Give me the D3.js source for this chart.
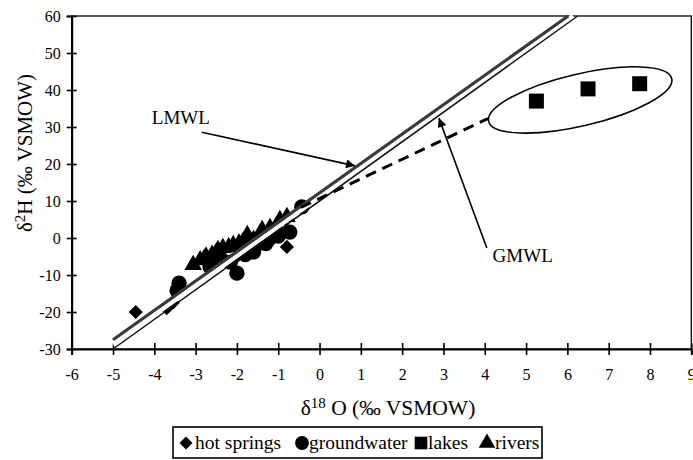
<!DOCTYPE html>
<html>
<head>
<meta charset="utf-8">
<script src="https://cdn.jsdelivr.net/npm/d3@7"></script>
<style>
  body { margin: 0; background: #fff; }
  text { font-family: "Liberation Serif", "DejaVu Serif", serif; fill: #000; }
</style>
</head>
<body>
<svg width="693" height="460"></svg>
<script>
var width = 693
var height = 460

// data (d18O, d2H)
var hotSprings = [[-4.45, -20], [-3.7, -19], [-3.55, -17.5], [-2.4, -6], [-2.0, -5], [-1.5, -2.5], [-1.2, -1], [-0.79, -2.4]]
var groundwater = [[-3.4, -12.2], [-3.45, -14.2], [-2.65, -7.8], [-2.4, -5.5], [-2.16, -6.5], [-2.0, -9.5], [-1.9, -3],
                   [-1.8, -4.5], [-1.6, -3.8], [-1.3, -1.5], [-1.0, 0.5], [-0.72, 1.6], [-0.43, 8.4]]
var lakes = [[5.25, 37], [6.5, 40.3], [7.75, 41.7]]
var rivers = [[-3.06, -7.3], [-2.89, -6], [-2.8, -5.8], [-2.75, -5], [-2.6, -4.5], [-2.5, -4], [-2.46, -3.2],
              [-2.34, -2.7], [-2.2, -2.5], [-2.09, -1.9], [-1.95, -1.5], [-1.85, -1], [-1.75, 0.8], [-1.6, -0.5],
              [-1.45, 0.5], [-1.39, 2.2], [-1.2, 2.7], [-1.05, 3], [-0.96, 4.9], [-0.79, 5.7]]

var seriesNames = ["hot springs", "groundwater", "lakes", "rivers"]
var xTicks = d3.range(-6, 10, 1)
var yTicks = d3.range(-30, 70, 10)

// meteoric water lines: LMWL, GMWL (d2H = a*d18O + b), drawn from -5 up to 60
var mwlNames = ["LMWL", "GMWL"]
var mwlSlopes = [7.94, 8]
var mwlIntercepts = [12.2, 10]
var mwlStart = -5

// evaporation line (dashed) and lake ellipse
var evapLine = [[-0.45, 8.3], [4.08, 32.3]]
var ellipseCenter = [6.31, 37.3]

// label positions and arrows in data units
var labelPos = [[-4.06, 30.8], [4.19, -6.5]]
var arrowFrom = [[-2.85, 28.6], [4.05, -2.7]]
var arrowTo = [[0.86, 19.5], [2.89, 32.4]]

var x = d3.scaleLinear().domain([-6, 9]).range([71.7, 691.3])
var y = d3.scaleLinear().domain([-30, 60]).range([349, 16])

var svg = d3.select("svg")

svg.append("defs").append("marker")
   .attr("id", "head")
   .attr("viewBox", "0 0 10 10")
   .attr("refX", 10).attr("refY", 5)
   .attr("markerWidth", 13).attr("markerHeight", 9)
   .attr("markerUnits", "userSpaceOnUse")
   .attr("orient", "auto")
   .append("path").attr("d", "M0,0L10,5L0,10Z").attr("fill", "#000")

// frame
svg.append("rect")
   .attr("x", x(-6)).attr("y", y(60))
   .attr("width", x(9) - x(-6)).attr("height", y(-30) - y(60))
   .attr("fill", "none").attr("stroke", "#000").attr("stroke-width", 1.3)

// axes
var xAxis = svg.append("g")
   .attr("transform", "translate(0," + y(-30) + ")")
   .call(d3.axisBottom(x).tickValues(xTicks).tickSize(6).tickPadding(14).tickFormat(d => String(d)))
xAxis.select(".domain").attr("stroke-width", 2)
xAxis.selectAll(".tick line").attr("y1", -6).attr("stroke-width", 1.6)
xAxis.selectAll("text").attr("font-size", 16).attr("font-family", "Liberation Serif")

var yAxis = svg.append("g")
   .attr("transform", "translate(" + x(-6) + ",0)")
   .call(d3.axisLeft(y).tickValues(yTicks).tickSize(5).tickPadding(6).tickFormat(d => String(d)))
yAxis.select(".domain").attr("stroke-width", 2)
yAxis.selectAll(".tick line").attr("x1", 5).attr("stroke-width", 1.6)
yAxis.selectAll("text").attr("font-size", 16).attr("font-family", "Liberation Serif")

// axis titles
var xt = svg.append("text")
   .attr("x", 388).attr("y", 415)
   .attr("text-anchor", "middle").attr("font-size", 21.5)
xt.append("tspan").text("δ")
xt.append("tspan").attr("font-size", 15).attr("dy", -7).text("18")
xt.append("tspan").attr("dy", 7).text(" O (‰ VSMOW)")

var yt = svg.append("text")
   .attr("transform", "translate(32,153) rotate(-90)")
   .attr("text-anchor", "middle").attr("font-size", 21)
yt.append("tspan").text("δ")
yt.append("tspan").attr("font-size", 15).attr("dy", -7).text("2")
yt.append("tspan").attr("dy", 7).text("H (‰ VSMOW)")

// markers
var shapes = [
  {data: hotSprings, sym: d3.symbolSquare, size: 100, rot: 45},
  {data: groundwater, sym: d3.symbolCircle, size: 185, rot: 0},
  {data: lakes, sym: d3.symbolSquare, size: 225, rot: 0},
  {data: rivers, sym: d3.symbolTriangle, size: 135, rot: 0}
]

shapes.forEach(function(s) {
  svg.append("g")
     .selectAll("path")
     .data(s.data)
     .enter()
       .append("path")
       .attr("d", d3.symbol().type(s.sym).size(s.size))
       .attr("transform", d => "translate(" + x(d[0]) + "," + y(d[1]) + ") rotate(" + s.rot + ")")
       .attr("fill", "#000")
})

// meteoric water lines
var mwl = mwlNames.map((n, i) => {
  var xEnd = (60 - mwlIntercepts[i]) / mwlSlopes[i]
  return [[mwlStart, mwlSlopes[i] * mwlStart + mwlIntercepts[i]], [xEnd, 60]]
})
var line = d3.line().x(d => x(d[0])).y(d => y(d[1]))

// white gap between the two lines
var midSlope = (mwlSlopes[0] + mwlSlopes[1]) / 2
var midInt = (mwlIntercepts[0] + mwlIntercepts[1]) / 2
var midLine = [[mwlStart, midSlope * mwlStart + midInt], [(60 - midInt) / midSlope, 60]]
svg.append("path")
   .attr("d", line(midLine))
   .attr("stroke", "#fff").attr("stroke-width", 4.5).attr("fill", "none")

svg.append("g").selectAll("path")
   .data(mwl).enter()
   .append("path").attr("d", line)
   .attr("stroke", (d, i) => i == 0 ? "#3a3a3a" : "#111")
   .attr("stroke-width", (d, i) => i == 0 ? 3.2 : 1.5)
   .attr("fill", "none")

// dashed evaporation line
svg.append("path")
   .attr("d", line(evapLine))
   .attr("stroke", "#000").attr("stroke-width", 3)
   .attr("stroke-dasharray", "11,7").attr("fill", "none")

// ellipse round the lakes
var ang = Math.atan2(y(42) - y(30.5), x(8.5) - x(4.1)) * 180 / Math.PI
svg.append("ellipse")
   .attr("cx", x(ellipseCenter[0])).attr("cy", y(ellipseCenter[1]))
   .attr("rx", 94).attr("ry", 26)
   .attr("transform", "rotate(" + ang + "," + x(ellipseCenter[0]) + "," + y(ellipseCenter[1]) + ")")
   .attr("fill", "none").attr("stroke", "#000").attr("stroke-width", 1.6)

// labels and arrows
svg.append("g").selectAll("text")
   .data(mwlNames).enter()
   .append("text")
   .attr("x", (d, i) => x(labelPos[i][0]))
   .attr("y", (d, i) => y(labelPos[i][1]))
   .attr("font-size", 19)
   .text(d => d)

svg.append("g").selectAll("line")
   .data(mwlNames).enter()
   .append("line")
   .attr("x1", (d, i) => x(arrowFrom[i][0]))
   .attr("y1", (d, i) => y(arrowFrom[i][1]))
   .attr("x2", (d, i) => x(arrowTo[i][0]))
   .attr("y2", (d, i) => y(arrowTo[i][1]))
   .attr("stroke", "#000").attr("stroke-width", 1.6)
   .attr("marker-end", "url(#head)")

// legend
var legend = svg.append("g")
legend.append("rect")
   .attr("x", 173).attr("y", 427).attr("width", 369).attr("height", 31)
   .attr("fill", "#fff").attr("stroke", "#000").attr("stroke-width", 1.6)

var legendX = [186, 302, 421, 487]
var legendTextX = [195, 309, 428, 495]
var legendSizes = [85, 150, 160, 120]
seriesNames.forEach(function(n, i) {
  legend.append("path")
     .attr("d", d3.symbol().type(shapes[i].sym).size(legendSizes[i]))
     .attr("transform", "translate(" + legendX[i] + ",443) rotate(" + shapes[i].rot + ")")
     .attr("fill", "#000")
  legend.append("text")
     .attr("x", legendTextX[i]).attr("y", 449)
     .attr("font-size", 19.5)
     .text(n)
})
</script>
</body>
</html>
